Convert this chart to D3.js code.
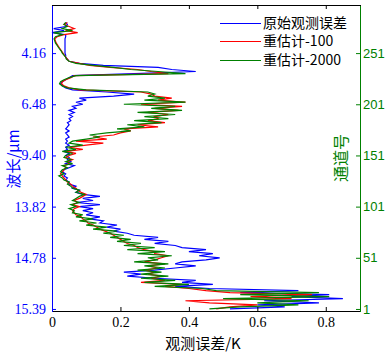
<!DOCTYPE html>
<html>
<head>
<meta charset="utf-8">
<script src="https://cdn.jsdelivr.net/npm/d3@7"></script>
<style>
    body { margin: 0; background: #ffffff; }
    .cjk { font-family: "Noto Sans CJK SC", sans-serif; }
</style>
</head>
<body>
<div id="chart"></div>
<script>

/* ~~~~~~~~~ DATA ~~~~~~~~~ */

// channel index (every second channel, 1..281)
var channels = d3.range(1, 282, 2);

// tick positions on the channel axis, with the matching wavelength labels
var channelTicks = [1, 51, 101, 151, 201, 251];
var wavelengthLabels = ["15.39", "14.78", "13.82", "9.40", "6.48", "4.16"];
var errorTicks = [0, 0.2, 0.4, 0.6, 0.8];

var seriesNames = ["原始观测误差", "重估计-100", "重估计-2000"];
var seriesColors = ["#0000ff", "#ff0000", "#008000"];

// 原始观测误差 (K)
var original = [
    0.52, 0.68, 0.60, 0.78, 0.62, 0.85, 0.70, 0.81, 0.55, 0.72,
    0.46, 0.36, 0.47, 0.38, 0.42, 0.30, 0.22, 0.26, 0.21, 0.30,
    0.36, 0.42, 0.36, 0.38, 0.45, 0.49, 0.43, 0.47, 0.40, 0.45,
    0.38, 0.36, 0.30, 0.34, 0.27, 0.31, 0.24, 0.22, 0.18, 0.20,
    0.16, 0.19, 0.14, 0.15, 0.11, 0.14, 0.10, 0.12, 0.09, 0.12,
    0.08, 0.14, 0.07, 0.12, 0.09, 0.14, 0.09, 0.07, 0.08, 0.06,
    0.07, 0.05, 0.05, 0.04, 0.045, 0.035, 0.04, 0.03, 0.035, 0.05,
    0.065, 0.04, 0.055, 0.045, 0.05, 0.04, 0.05, 0.035, 0.045, 0.04,
    0.05, 0.04, 0.045, 0.04, 0.05, 0.045, 0.04, 0.05, 0.04, 0.045,
    0.05, 0.045, 0.055, 0.05, 0.06, 0.05, 0.065, 0.05, 0.07, 0.06,
    0.09, 0.07, 0.10, 0.08, 0.18, 0.24, 0.16, 0.06, 0.04, 0.03,
    0.025, 0.03, 0.04, 0.05, 0.06, 0.24, 0.42, 0.35, 0.31, 0.15,
    0.08, 0.05, 0.045, 0.04, 0.04, 0.038, 0.038, 0.038, 0.038, 0.038,
    0.038, 0.038, 0.038, 0.04, 0.04, 0.0, 0.035, 0.005, 0.04, 0.045,
    0.04
];

// 重估计-100 (K)
var reest100 = [
    0.48, 0.52, 0.60, 0.46, 0.39, 0.70, 0.58, 0.76, 0.52, 0.45,
    0.40, 0.33, 0.38, 0.26, 0.33, 0.29, 0.32, 0.28, 0.30, 0.27,
    0.31, 0.28, 0.33, 0.27, 0.30, 0.32, 0.34, 0.30, 0.30, 0.27,
    0.25, 0.24, 0.22, 0.21, 0.20, 0.19, 0.18, 0.17, 0.155, 0.14,
    0.13, 0.12, 0.105, 0.10, 0.09, 0.085, 0.07, 0.065, 0.06, 0.065,
    0.08, 0.06, 0.075, 0.065, 0.08, 0.09, 0.10, 0.085, 0.075, 0.07,
    0.06, 0.055, 0.045, 0.04, 0.035, 0.03, 0.025, 0.03, 0.035, 0.04,
    0.035, 0.05, 0.045, 0.06, 0.04, 0.05, 0.07, 0.04, 0.09, 0.05,
    0.10, 0.15, 0.07, 0.16, 0.12, 0.18, 0.20, 0.23, 0.21, 0.31,
    0.25, 0.33, 0.28, 0.31, 0.30, 0.34, 0.28, 0.37, 0.30, 0.38,
    0.26, 0.39, 0.31, 0.35, 0.30, 0.29, 0.26, 0.08, 0.05, 0.035,
    0.028, 0.03, 0.04, 0.055, 0.065, 0.34, 0.29, 0.25, 0.17, 0.11,
    0.08, 0.05, 0.045, 0.04, 0.036, 0.032, 0.028, 0.024, 0.02, 0.016,
    0.012, 0.01, 0.008, 0.015, 0.035, 0.075, 0.04, 0.065, 0.05, 0.035,
    0.045
];

// 重估计-2000 (K)
var reest2000 = [
    0.46, 0.55, 0.72, 0.60, 0.75, 0.50, 0.81, 0.55, 0.78, 0.48,
    0.44, 0.30, 0.40, 0.27, 0.36, 0.26, 0.34, 0.26, 0.32, 0.25,
    0.33, 0.27, 0.34, 0.24, 0.31, 0.28, 0.35, 0.25, 0.33, 0.22,
    0.30, 0.21, 0.26, 0.19, 0.23, 0.17, 0.21, 0.15, 0.19, 0.12,
    0.16, 0.10, 0.13, 0.08, 0.12, 0.07, 0.09, 0.06, 0.065, 0.05,
    0.07, 0.055, 0.08, 0.06, 0.07, 0.08, 0.095, 0.07, 0.08, 0.06,
    0.055, 0.045, 0.05, 0.035, 0.03, 0.02, 0.035, 0.025, 0.03, 0.045,
    0.03, 0.06, 0.04, 0.055, 0.035, 0.04, 0.06, 0.03, 0.07, 0.04,
    0.09, 0.05, 0.06, 0.10, 0.14, 0.11, 0.16, 0.23, 0.19, 0.27,
    0.22, 0.32, 0.24, 0.34, 0.27, 0.36, 0.25, 0.38, 0.29, 0.36,
    0.21, 0.39, 0.27, 0.33, 0.28, 0.30, 0.28, 0.10, 0.045, 0.03,
    0.022, 0.025, 0.035, 0.05, 0.07, 0.39, 0.31, 0.23, 0.18, 0.12,
    0.07, 0.05, 0.042, 0.04, 0.035, 0.03, 0.027, 0.022, 0.018, 0.014,
    0.01, 0.008, 0.006, 0.01, 0.03, 0.005, 0.06, 0.03, 0.045, 0.035,
    0.04
];

/* ~~~~~~~~~ SVG SETUP ~~~~~~~~~ */

var width = 388;
var height = 353;
var plotLeft = 52, plotRight = 360, plotTop = 5, plotBottom = 311;   // plot box

var svg = d3.select("#chart").append("svg")
    .attr("width", width)
    .attr("height", height);

var x = d3.scaleLinear().domain([0, 0.9]).range([plotLeft, plotRight]);
var y = d3.scaleLinear().domain([-1, 298]).range([plotBottom, plotTop]);

/* ~~~~~~~~~ LINES ~~~~~~~~~ */

var line = d3.line()
    .x(function(d){ return x(d.v); })
    .y(function(d){ return y(d.c); });

var allSeries = [original, reest100, reest2000];

svg.append("g").attr("class", "lines")
    .selectAll("path")
    .data(allSeries)
    .enter()
    .append("path")
    .attr("d", function(s){
        return line(s.map(function(v, i){ return {c: channels[i], v: v}; }));
    })
    .attr("fill", "none")
    .attr("stroke", function(s, i){ return seriesColors[i]; })
    .attr("stroke-width", 1.2);

/* ~~~~~~~~~ AXES ~~~~~~~~~ */

// bottom axis, ticks pointing inward
var xAxis = svg.append("g")
    .attr("transform", "translate(0," + plotBottom + ")")
    .call(d3.axisBottom(x).tickValues(errorTicks).tickSizeInner(-4).tickSizeOuter(0).tickPadding(6)
        .tickFormat(function(d){ return d === 0 ? "0" : d3.format(".1f")(d); }));
xAxis.selectAll("text")
    .attr("fill", "#000")
    .style("font-family", "'Liberation Serif', serif")
    .style("font-size", "14px");

// top border with ticks, no labels
svg.append("g")
    .attr("transform", "translate(0," + plotTop + ")")
    .call(d3.axisTop(x).tickValues(errorTicks).tickSizeInner(-4).tickSizeOuter(0).tickFormat(""));

// left axis: wavelength labels, blue
var yLeft = svg.append("g")
    .attr("transform", "translate(" + plotLeft + ",0)")
    .call(d3.axisLeft(y).tickValues(channelTicks).tickSizeInner(-4).tickSizeOuter(0).tickPadding(6)
        .tickFormat(function(d, i){ return wavelengthLabels[i]; }));
yLeft.selectAll("path, line").attr("stroke", "#0000ff");
yLeft.selectAll("text")
    .attr("fill", "#0000ff")
    .style("font-family", "'Liberation Serif', serif")
    .style("font-size", "14px");

// right axis: channel numbers, green
var yRight = svg.append("g")
    .attr("transform", "translate(" + plotRight + ",0)")
    .call(d3.axisRight(y).tickValues(channelTicks).tickSizeInner(-4).tickSizeOuter(0).tickPadding(3));
yRight.selectAll("path, line").attr("stroke", "#008000");
yRight.selectAll("text")
    .attr("fill", "#008000")
    .style("font-family", "'Liberation Sans', sans-serif")
    .style("font-size", "13px");

svg.selectAll(".domain").attr("shape-rendering", "crispEdges");

/* ~~~~~~~~~ AXIS TITLES ~~~~~~~~~ */

svg.append("text")
    .attr("class", "cjk")
    .attr("x", 203).attr("y", 349)
    .attr("text-anchor", "middle")
    .style("font-size", "15px")
    .text("观测误差/K");

svg.append("text")
    .attr("class", "cjk")
    .attr("transform", "translate(19,159) rotate(-90)")
    .attr("text-anchor", "middle")
    .attr("fill", "#0000ff")
    .style("font-size", "15px")
    .text("波长/μm");

svg.append("text")
    .attr("class", "cjk")
    .attr("transform", "translate(347,158) rotate(-90)")
    .attr("text-anchor", "middle")
    .attr("fill", "#008000")
    .style("font-size", "16px")
    .text("通道号");

/* ~~~~~~~~~ LEGEND ~~~~~~~~~ */

var legend = svg.append("g").selectAll("g")
    .data(seriesNames)
    .enter()
    .append("g")
    .attr("transform", function(d, i){ return "translate(220," + (23 + i * 18.5) + ")"; });

legend.append("line")
    .attr("x1", 0).attr("x2", 41)
    .attr("stroke", function(d, i){ return seriesColors[i]; })
    .attr("stroke-width", 1)
    .attr("shape-rendering", "crispEdges");

legend.append("text")
    .attr("class", "cjk")
    .attr("x", 43).attr("dy", "0.35em")
    .style("font-size", "14px")
    .text(function(d){ return d; });

</script>
</body>
</html>
